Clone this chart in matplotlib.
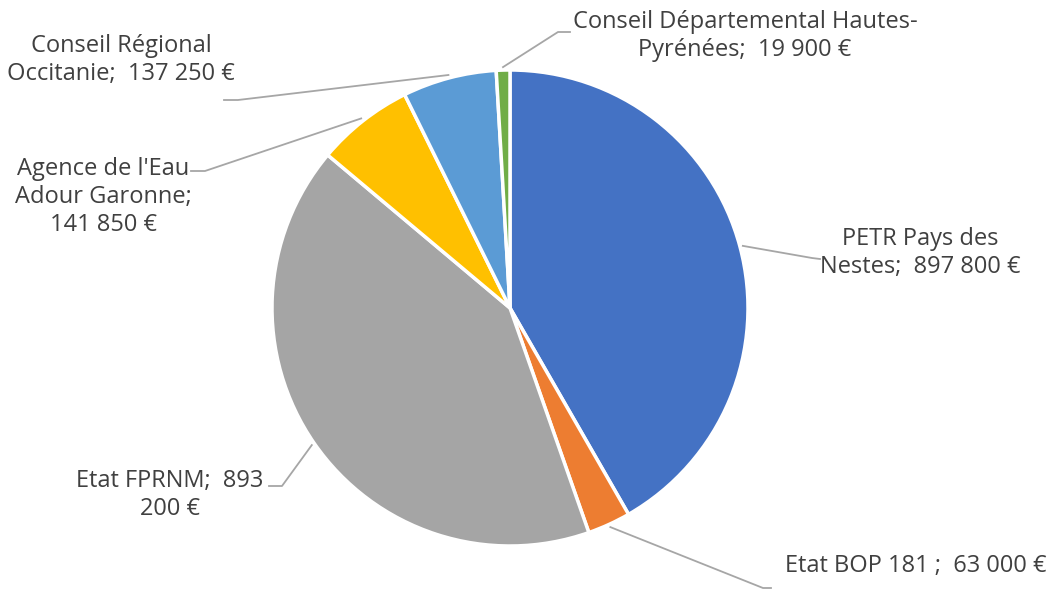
import matplotlib
matplotlib.use("Agg")
import matplotlib.pyplot as plt
import numpy as np

# data
labels = ["PETR Pays des\nNestes;  897 800 €",
          "Etat BOP 181 ;  63 000 €",
          "Etat FPRNM;  893\n200 €",
          "Agence de l'Eau\nAdour Garonne;\n141 850 €",
          "Conseil Régional\nOccitanie;  137 250 €",
          "Conseil Départemental Hautes-\nPyrénées;  19 900 €"]
values = [897800, 63000, 893200, 141850, 137250, 19900]
colors = ["#4472C4", "#ED7D31", "#A5A5A5", "#FFC000", "#5B9BD5", "#70AD47"]

W, H = 1051, 590
cx, cy, R = 510, 308, 238

# label text centres and leader bends (pixel coords, y down)
text_pos = [(920, 253), (916, 566), (170, 495), (103, 197), (121, 60), (745, 36)]
bends = [[(812, 258), (820, 259)],
         [(763, 588), (771, 588)],
         [(282, 486), (269, 486)],
         [(205, 171), (191, 171)],
         [(238, 100), (224, 100)],
         [(558, 32), (570, 32)]]

fig = plt.figure(figsize=(W / 100, H / 100), dpi=100)
ax = fig.add_axes([0, 0, 1, 1])

wedges, _ = ax.pie(values, colors=colors, startangle=90, counterclock=False,
                   center=(cx, H - cy), radius=R,
                   wedgeprops=dict(edgecolor="white", linewidth=2.5))
ax.set_xlim(0, W)
ax.set_ylim(0, H)
ax.set_aspect("equal")
ax.axis("off")

for w, lab, tp, bd in zip(wedges, labels, text_pos, bends):
    mid = np.deg2rad((w.theta1 + w.theta2) / 2)
    sx = cx + (R + 3) * np.cos(mid)
    sy = cy - (R + 3) * np.sin(mid)
    xs = [sx] + [p[0] for p in bd]
    ys = [H - sy] + [H - p[1] for p in bd]
    ax.plot(xs, ys, color="#A6A6A6", lw=1.3)
    ax.text(tp[0], H - tp[1], lab, ha="center", va="center", fontsize=17,
            color="#404040", family="Open Sans", linespacing=1.22)

fig.savefig("out.png", dpi=100)
